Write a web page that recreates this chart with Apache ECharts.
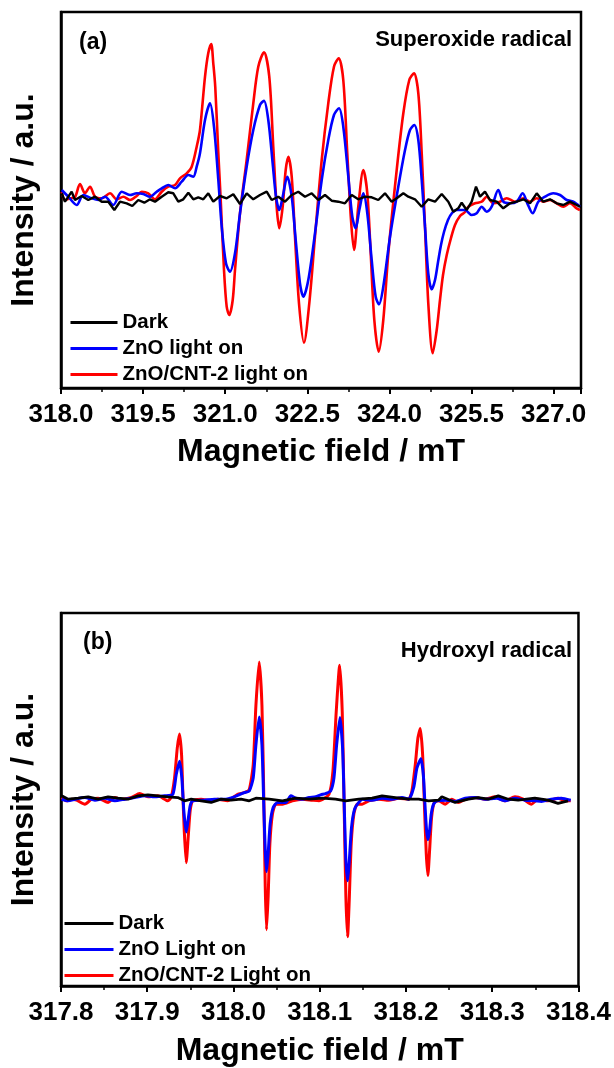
<!DOCTYPE html>
<html>
<head>
<meta charset="utf-8">
<title>EPR spectra</title>
<script src="https://cdn.jsdelivr.net/npm/echarts@6/dist/echarts.min.js"></script>
<style>
  html, body { margin: 0; padding: 0; background: #fff; }
  #chart { width: 614px; height: 1068px; }
</style>
</head>
<body>
<div id="chart"></div>
<script>
// Panel (a): DMPO-O2•- spectra, [field (mT), intensity (a.u.)]
const darkA = [
  [318.013,5.7],[318.073,-2.7],[318.195,7.3],[318.256,-1],[318.378,3],[318.499,-1],[318.621,2.3],
  [318.744,-2.7],[318.864,-2.7],[318.974,-11],[319.078,-2.7],[319.200,-4.3],[319.303,-7],[319.412,-1],
  [319.522,-3.7],[319.626,-0.3],[319.717,-2.7],[319.840,2.3],[319.960,6.7],[320.052,5.7],[320.143,-2.7],
  [320.234,-0.3],[320.326,6.3],[320.417,-0.3],[320.508,1.7],[320.600,-0.3],[320.691,5.7],[320.782,-2.7],
  [320.905,3],[321.027,0.7],[321.148,4.7],[321.270,-5],[321.392,5.7],[321.513,-0.3],[321.635,4],
  [321.758,7.3],[321.849,-1],[321.970,2.3],[322.092,-2.7],[322.215,4],[322.335,7.3],[322.458,2.3],
  [322.580,5.7],[322.701,-1],[322.823,4],[322.945,-1.7],[323.066,-2.7],[323.188,-4.3],[323.311,4],
  [323.431,-0.3],[323.554,2.3],[323.676,1.7],[323.797,-1],[323.919,5.7],[324.041,-2.7],[324.133,0.7],
  [324.254,5.7],[324.345,2.3],[324.467,-0.3],[324.590,-7.7],[324.710,-0.3],[324.833,-2.7],[324.955,5],
  [325.076,-2.7],[325.167,-12.7],[325.258,-9.3],[325.320,-3.7],[325.412,-11],[325.503,-2.7],[325.582,12.3],
  [325.655,2.3],[325.746,7.3],[325.838,-1],[325.960,-2.7],[326.080,-9.3],[326.203,-4.3],[326.325,-2.7],
  [326.446,-0.3],[326.568,-4.3],[326.691,5.7],[326.811,-2.7],[326.934,-0.3],[327.056,-4.3],[327.177,-6],
  [327.299,-2.7],[327.421,-6],[327.481,-7.7]
];
const znoA = [
  [318.013,9],[318.133,2.3],[318.287,-6],[318.407,4],[318.561,0.7],[318.681,-1],[318.804,2.3],
  [318.955,-6],[319.109,7.3],[319.261,4],[319.383,5.7],[319.504,5],[319.626,2.3],[319.748,7.3],
  [319.840,10.7],[319.960,14],[320.083,10.7],[320.205,17.3],[320.326,24],[320.417,22.3],[320.479,32.3],
  [320.539,45.7],[320.631,79],[320.722,95.7],[320.795,72.3],[320.874,19],[320.936,-27.7],[321.014,-64.3],
  [321.087,-72.7],[321.179,-54.3],[321.270,-14.3],[321.392,32.3],[321.513,69],[321.635,94],[321.708,98.3],
  [321.787,79],[321.867,35.7],[321.928,2.3],[321.988,-11],[322.050,2.3],[322.134,22.3],[322.215,2.3],
  [322.288,-41],[322.366,-84.3],[322.427,-97.7],[322.518,-81],[322.640,-34.3],[322.763,19],[322.883,59],
  [322.987,84],[323.079,90.7],[323.157,72.3],[323.249,22.3],[323.322,-17.7],[323.384,-29.3],[323.450,-11],
  [323.523,5.7],[323.596,-14.3],[323.676,-61],[323.749,-97.7],[323.810,-105.3],[323.888,-87.7],[324.011,-37.7],
  [324.162,12.3],[324.285,49],[324.376,69],[324.454,74],[324.528,59],[324.590,19],[324.650,-27.7],
  [324.710,-74.3],[324.773,-90.3],[324.833,-81],[324.888,-63],[324.942,-46],[324.997,-33],[325.070,-21],
  [325.144,-14],[325.229,-11],[325.381,-11],[325.503,-16],[325.594,-14.3],[325.686,-7.7],[325.777,-12.7],
  [325.868,-7.7],[325.989,9],[326.080,-2.7],[326.203,-4.3],[326.325,-2.7],[326.435,5.7],[326.519,-4.3],
  [326.617,-14.3],[326.720,-2.7],[326.842,2.3],[326.994,5.7],[327.116,4],[327.239,-1],[327.360,-2.7],
  [327.481,-7.7]
];
const cntA = [
  [318.013,7],[318.073,-1],[318.164,0.7],[318.256,2],[318.347,15],[318.438,5.7],[318.530,12.3],
  [318.621,2.3],[318.744,0.7],[318.895,5.7],[319.018,-0.3],[319.138,2.3],[319.261,-1],[319.383,3],
  [319.474,7.3],[319.595,5.7],[319.717,-0.3],[319.840,7.3],[319.960,12.3],[320.083,14],[320.174,20.7],
  [320.296,25.7],[320.388,32.3],[320.479,52.3],[320.539,69],[320.631,122.3],[320.690,145.7],[320.744,155],
  [320.782,135.7],[320.818,112.3],[320.874,45.7],[320.918,-1],[320.978,-71],[321.027,-107.7],[321.075,-116],
  [321.137,-101],[321.179,-71],[321.270,-14.3],[321.392,39],[321.513,95.7],[321.604,132.3],[321.708,146.7],
  [321.805,122.3],[321.878,52.3],[321.940,-7.7],[321.988,-29.3],[322.050,-7.7],[322.105,29],[322.153,42.3],
  [322.215,22.3],[322.275,-37.7],[322.348,-104.3],[322.439,-143.7],[322.536,-104.3],[322.640,-37.7],[322.763,39],
  [322.883,95.7],[322.987,132.3],[323.073,140.7],[323.157,119],[323.230,45.7],[323.298,-21],[323.353,-51],
  [323.431,-7.7],[323.523,29],[323.596,5.7],[323.658,-54.3],[323.724,-121],[323.804,-152.7],[323.888,-121],
  [323.980,-54.3],[324.133,29],[324.254,85.7],[324.363,119],[324.449,125.7],[324.528,105.7],[324.590,45.7],
  [324.650,-27.7],[324.710,-104.3],[324.791,-154.3],[324.864,-131],[324.924,-101],[324.979,-76],[325.047,-56],
  [325.125,-39],[325.198,-26],[325.290,-17],[325.381,-13],[325.442,-7.7],[325.564,-4.3],[325.686,-2.7],
  [325.777,2.3],[325.898,-4.3],[326.020,-2.7],[326.143,0.7],[326.294,-2.7],[326.446,0.7],[326.568,-2.7],
  [326.691,0.7],[326.811,-2.7],[326.934,-1],[327.056,-4.3],[327.177,-7.7],[327.299,-4.3],[327.421,-9.3],
  [327.481,-11]
];

// Panel (b): DMPO-•OH spectra, [field (mT), intensity (a.u.)]
const darkB = [
  [317.8008,1.7],[317.8084,-1.7],[317.8200,-0.7],[317.8315,0.7],[317.8431,-1.7],[317.8546,0.7],
  [317.8662,-0.7],[317.8777,-1.7],[317.8893,1.7],[317.9008,2.7],[317.9124,1.7],[317.9239,0.7],
  [317.9355,0],[317.9432,-3.3],[317.9510,-1.7],[317.9625,-3.3],[317.9741,-5],[317.9856,-1.7],
  [317.9972,-2.7],[318.0087,-1.7],[318.0183,-3.3],[318.0260,-0.7],[318.0414,-1.7],[318.0568,-3.3],
  [318.0722,-0.7],[318.0876,-1.7],[318.1030,-0.7],[318.1184,-1.7],[318.1300,-3.3],[318.1453,-1.7],
  [318.1607,-0.7],[318.1723,1.7],[318.1877,0],[318.2031,-1.7],[318.2146,-1.7],[318.2262,-3.3],
  [318.2377,-2.7],[318.2416,0.7],[318.2570,-5],[318.2724,-1.7],[318.2839,0],[318.2955,-1.7],
  [318.3070,1.7],[318.3186,-1.7],[318.3301,-2.7],[318.3494,-0.7],[318.3648,-2.7],[318.3763,-6],
  [318.3879,-3.3]
];
const znoB = [
  [317.8008,-1.7],[317.8084,-3.3],[317.8162,-1.7],[317.8277,0],[317.8393,-2.7],[317.8508,-0.7],
  [317.8624,-3.3],[317.8739,-1.7],[317.8855,0],[317.8970,1.7],[317.9086,0.7],[317.9201,1.7],
  [317.9297,3.3],[317.9336,23.3],[317.9374,36.7],[317.9401,20],[317.9424,-13.3],[317.9452,-35],
  [317.9478,-20],[317.9498,-8.3],[317.9528,-3.3],[317.9663,-2.7],[317.9779,-1.7],[317.9894,-1.7],
  [318.0010,0.7],[318.0125,5],[318.0183,6.7],[318.0229,20],[318.0260,53.3],[318.0298,81.7],
  [318.0330,53.3],[318.0353,-13.3],[318.0368,-53.3],[318.0383,-75],[318.0402,-56.7],[318.0425,-26.7],
  [318.0460,-10],[318.0510,-5],[318.0607,-5],[318.0665,1.7],[318.0722,-0.7],[318.0799,-1.7],
  [318.0876,0],[318.0953,0.7],[318.1011,2.7],[318.1069,4],[318.1127,6.7],[318.1165,20],
  [318.1196,53.3],[318.1234,81],[318.1265,50],[318.1288,-20],[318.1303,-63.3],[318.1323,-84.3],
  [318.1341,-66.7],[318.1369,-30],[318.1404,-11.7],[318.1453,-5],[318.1492,-1.7],[318.1607,-2.7],
  [318.1723,-0.7],[318.1838,-1.7],[318.1954,0],[318.2031,-1.7],[318.2089,10],[318.2127,30],
  [318.2173,39.3],[318.2201,23.3],[318.2224,-13.3],[318.2239,-33.3],[318.2254,-42.7],[318.2274,-33.3],
  [318.2293,-16.7],[318.2320,-6.7],[318.2358,-3.3],[318.2474,-2.7],[318.2570,-4],[318.2686,-0.7],
  [318.2801,0],[318.2917,-1.7],[318.3051,-0.7],[318.3148,-3.3],[318.3263,-0.7],[318.3379,-2.7],
  [318.3494,-3.3],[318.3571,-4],[318.3686,-1.7],[318.3802,-0.7],[318.3910,-2.7]
];
const cntB = [
  [317.8008,0],[317.8066,-3.3],[317.8124,-1.7],[317.8181,-2.7],[317.8277,-6.7],[317.8355,-1.7],
  [317.8431,-0.7],[317.8546,-5],[317.8624,0],[317.8701,-1.7],[317.8817,0],[317.8912,4],
  [317.9008,0.7],[317.9124,1.7],[317.9239,-3.3],[317.9279,0.7],[317.9317,20],[317.9348,50],
  [317.9374,64.3],[317.9398,43.3],[317.9413,3.3],[317.9429,-33.3],[317.9452,-66],[317.9475,-40],
  [317.9498,-13.3],[317.9528,-3.3],[317.9625,-1.7],[317.9741,-3.3],[317.9817,-1.7],[317.9932,-3.3],
  [318.0048,3.3],[318.0125,5],[318.0183,8.3],[318.0229,33.3],[318.0260,93.3],[318.0298,137.3],
  [318.0330,93.3],[318.0353,-6.7],[318.0368,-90],[318.0383,-134],[318.0402,-100],[318.0422,-46.7],
  [318.0452,-16.7],[318.0491,-6.7],[318.0568,-6.7],[318.0683,-3.3],[318.0799,-1.7],[318.0914,-2.7],
  [318.0991,-3.3],[318.1107,3.3],[318.1153,26.7],[318.1191,86.7],[318.1231,134],[318.1261,86.7],
  [318.1284,-13.3],[318.1303,-100],[318.1323,-141],[318.1341,-106.7],[318.1365,-46.7],[318.1396,-16.7],
  [318.1434,-6.7],[318.1492,-6.7],[318.1569,-3.3],[318.1684,-1.7],[318.1800,-2.7],[318.1915,-0.7],
  [318.2031,-1.7],[318.2069,6.7],[318.2108,33.3],[318.2138,60],[318.2166,70],[318.2193,43.3],
  [318.2216,-13.3],[318.2235,-56.7],[318.2254,-79],[318.2274,-53.3],[318.2297,-20],[318.2328,-5],
  [318.2377,-3.3],[318.2455,-6.7],[318.2531,-1.7],[318.2608,-5],[318.2686,-1.7],[318.2801,0],
  [318.2917,-1.7],[318.3032,0.7],[318.3148,-3.3],[318.3263,0.7],[318.3359,-1.7],[318.3455,-6.7],
  [318.3532,-1.7],[318.3648,-3.3],[318.3763,-0.7],[318.3841,-3.3],[318.3910,-3.3]
];

const namesA = ['Dark', 'ZnO light on', 'ZnO/CNT-2 light on'];
const namesB = ['Dark', 'ZnO Light on', 'ZnO/CNT-2 Light on'];
const ticksA = [318.0, 319.5, 321.0, 322.5, 324.0, 325.5, 327.0];
const ticksB = [317.8, 317.9, 318.0, 318.1, 318.2, 318.3, 318.4];

const FONT = '"Liberation Sans", Arial, Helvetica, sans-serif';
const colors = ['#000000', '#0000ff', '#ff0000'];

function tickFormatter(list) {
  return function (v) {
    const hit = list.find(t => Math.abs(t - v) < 1e-6);
    return hit === undefined ? '' : hit.toFixed(1);
  };
}

function xAxisFor(gridIndex, min, max, interval, list, gap) {
  return {
    gridIndex, type: 'value', min, max, interval,
    name: 'Magnetic field / mT', nameLocation: 'middle', nameGap: gap,
    nameTextStyle: { fontFamily: FONT, fontSize: 32, fontWeight: 'bold', color: '#000' },
    axisLine: { show: true, onZero: false, lineStyle: { color: '#000', width: 2.5 } },
    axisTick: { show: true, inside: false, length: 6, lineStyle: { color: '#000', width: 2 } },
    minorTick: { show: true, splitNumber: 2, length: 4, lineStyle: { color: '#000', width: 1.5 } },
    splitLine: { show: false },
    axisLabel: {
      show: true, margin: 14, fontFamily: FONT, fontSize: 26, fontWeight: 'bold', color: '#000',
      formatter: tickFormatter(list), showMinLabel: true, showMaxLabel: true
    }
  };
}

function yAxisFor(gridIndex, min, max) {
  return {
    gridIndex, type: 'value', min, max,
    name: 'Intensity / a.u.', nameLocation: 'middle', nameGap: 21,
    nameTextStyle: { fontFamily: FONT, fontSize: 32, fontWeight: 'bold', color: '#000' },
    axisLine: { show: true, onZero: false, lineStyle: { color: '#000', width: 2.5 } },
    axisTick: { show: false },
    axisLabel: { show: false },
    splitLine: { show: false }
  };
}

function lineSeries(name, data, idx, color, width, z, smooth) {
  return {
    name, type: 'line', data, xAxisIndex: idx, yAxisIndex: idx,
    showSymbol: false, symbol: 'none', smooth, z,
    lineStyle: { color, width }, itemStyle: { color },
    emphasis: { disabled: true }
  };
}

function legendFor(names, left, top, width) {
  return {
    orient: 'vertical', left, top, padding: 0, itemGap: 5,
    itemWidth: width, itemHeight: 3, icon: 'rect',
    data: names,
    textStyle: { fontFamily: FONT, fontSize: 20.5, fontWeight: 'bold', color: '#000' },
    selectedMode: false
  };
}

function label(text, x, y, align, size) {
  return {
    type: 'text', x, y, z: 100,
    style: {
      text, x: 0, y: 0, fill: '#000', align, verticalAlign: 'middle',
      font: 'bold ' + size + 'px ' + FONT
    }
  };
}

const chart = echarts.init(document.getElementById('chart'), null, { renderer: 'canvas' });

chart.setOption({
  animation: false,
  backgroundColor: '#ffffff',
  grid: [
    { left: 61, top: 12, width: 520, height: 376, show: true, borderColor: '#000', borderWidth: 2.5, backgroundColor: 'transparent' },
    { left: 61, top: 613, width: 519.5, height: 378, show: true, borderColor: '#000', borderWidth: 2.5, backgroundColor: 'transparent' }
  ],
  xAxis: [
    xAxisFor(0, 318.0, 327.5, 1.5, ticksA, 48),
    xAxisFor(1, 317.8, 318.4, 0.1, ticksB, 49)
  ],
  yAxis: [
    yAxisFor(0, -189, 187),
    yAxisFor(1, -191, 187)
  ],
  legend: [
    legendFor(namesA, 70.5, 312, 47),
    legendFor(namesB, 64.5, 913, 49)
  ],
  series: [
    lineSeries(namesA[0], darkA, 0, colors[0], 2.4, 4, false),
    lineSeries(namesA[1], znoA, 0, colors[1], 2.6, 3, 0.3),
    lineSeries(namesA[2], cntA, 0, colors[2], 2.6, 2, 0.3),
    lineSeries(namesB[0], darkB, 1, colors[0], 2.8, 4, false),
    lineSeries(namesB[1], znoB, 1, colors[1], 3, 3, 0.2),
    lineSeries(namesB[2], cntB, 1, colors[2], 3, 2, 0.2)
  ],
  graphic: [
    label('(a)', 79, 43, 'left', 23),
    label('Superoxide radical', 572, 40, 'right', 22),
    label('(b)', 83, 643, 'left', 23),
    label('Hydroxyl radical', 572, 651, 'right', 22)
  ]
});
</script>
</body>
</html>
